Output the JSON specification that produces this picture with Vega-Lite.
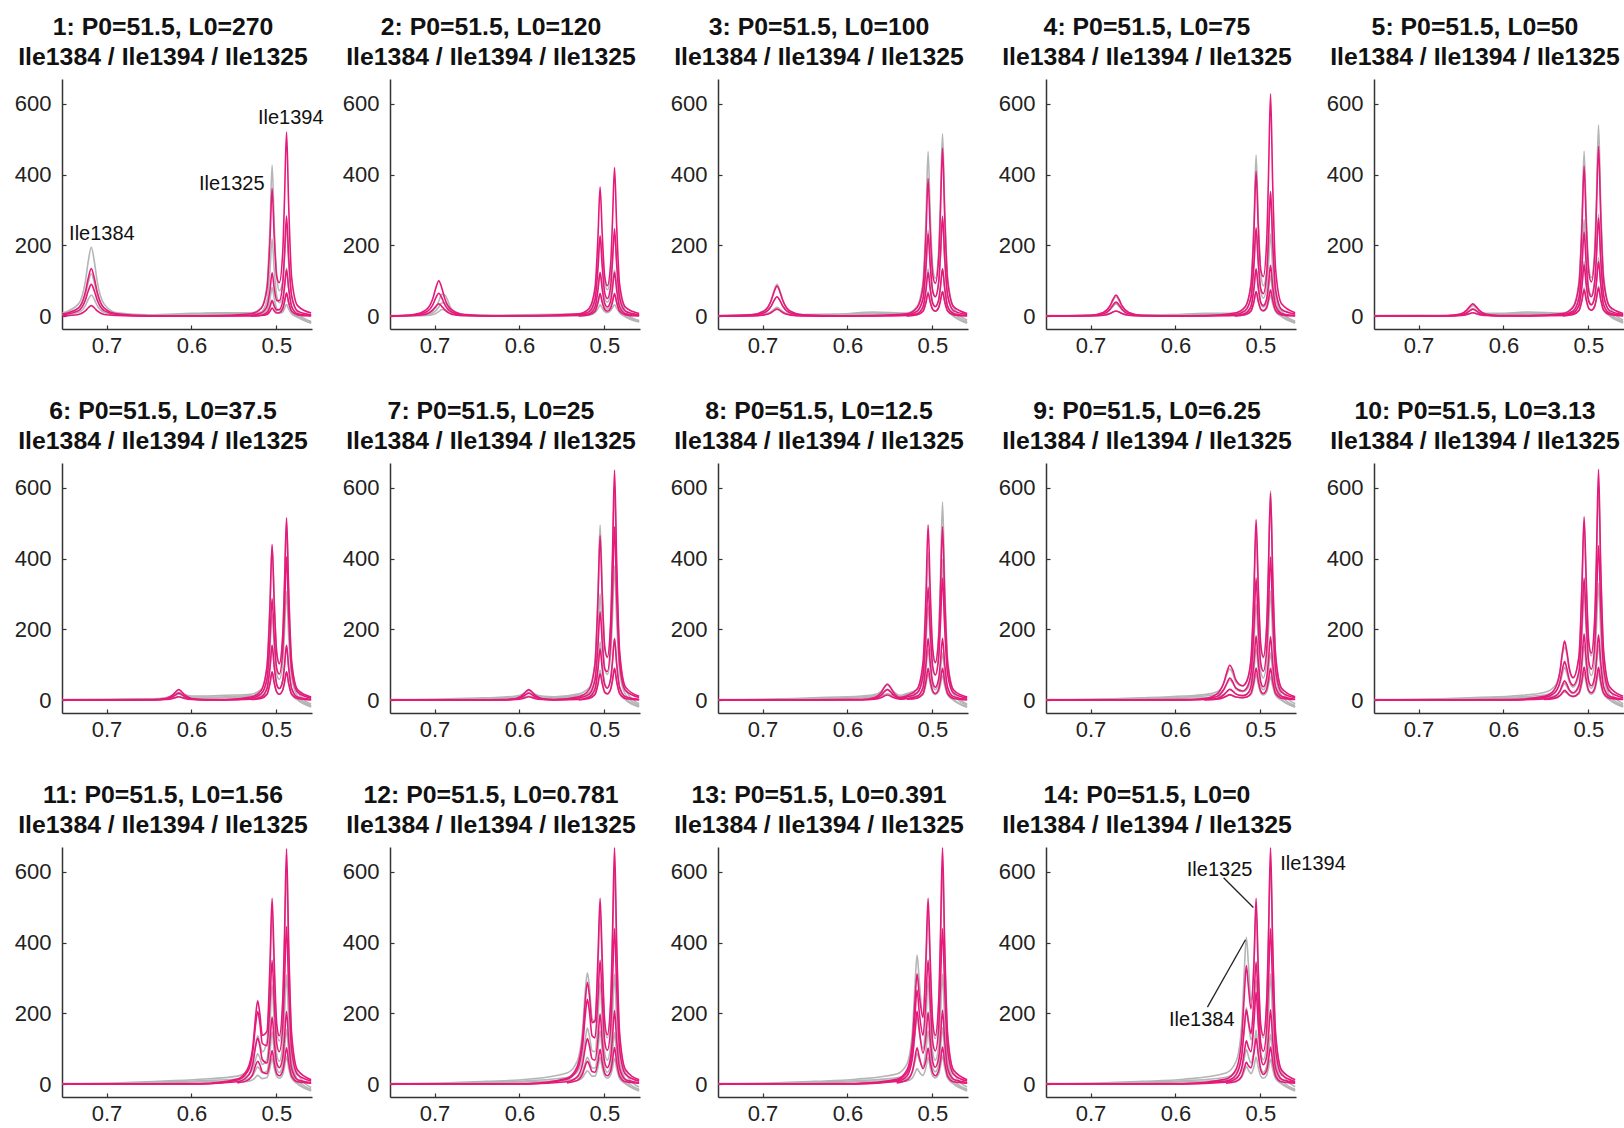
{
"$schema": "https://vega.github.io/schema/vega-lite/v6.json",
"background": "#ffffff",
"padding": {"left": 14, "top": 15, "right": 0, "bottom": 0},
"data": {"values": [
{"p":1,"x":0.752,"g1":9,"g2":5,"g3":3,"m1":6,"m2":4,"m3":1},
{"p":1,"x":0.733,"g1":35,"g2":22,"g3":11,"m1":24,"m2":16,"m3":5},
{"p":1,"x":0.725,"g1":98,"g2":60,"g3":30,"m1":68,"m2":45,"m3":15},
{"p":1,"x":0.7215,"g1":156,"g2":96,"g3":48,"m1":108,"m2":72,"m3":24},
{"p":1,"x":0.718,"g1":195,"g2":120,"g3":60,"m1":135,"m2":90,"m3":30},
{"p":1,"x":0.7145,"g1":156,"g2":96,"g3":48,"m1":108,"m2":72,"m3":24},
{"p":1,"x":0.711,"g1":98,"g2":60,"g3":30,"m1":68,"m2":45,"m3":15},
{"p":1,"x":0.703,"g1":35,"g2":22,"g3":11,"m1":24,"m2":16,"m3":5},
{"p":1,"x":0.688,"g1":10,"g2":6,"g3":3,"m1":7,"m2":5,"m3":2},
{"p":1,"x":0.65,"g1":4,"g2":3,"g3":2,"m1":1,"m2":1,"m3":0},
{"p":1,"x":0.6,"g1":8,"g2":6,"g3":4,"m1":1,"m2":1,"m3":1},
{"p":1,"x":0.565,"g1":10,"g2":8,"g3":5,"m1":2,"m2":1,"m3":1},
{"p":1,"x":0.53,"g1":10,"g2":7,"g3":4,"g4":2,"m1":7,"m2":3,"m3":1,"m4":1},
{"p":1,"x":0.518,"g1":23,"g2":12,"g3":5,"g4":3,"m1":22,"m2":9,"m3":3,"m4":2},
{"p":1,"x":0.511,"g1":88,"g2":45,"g3":17,"g4":9,"m1":78,"m2":28,"m3":10,"m4":5},
{"p":1,"x":0.5075,"g1":253,"g2":130,"g3":48,"g4":26,"m1":216,"m2":74,"m3":27,"m4":14},
{"p":1,"x":0.505,"g1":427,"g2":219,"g3":82,"g4":45,"m1":361,"m2":123,"m3":44,"m4":23},
{"p":1,"x":0.5025,"g1":258,"g2":132,"g3":50,"g4":27,"m1":225,"m2":79,"m3":29,"m4":15},
{"p":1,"x":0.4995,"g1":112,"g2":57,"g3":22,"g4":12,"m1":112,"m2":44,"m3":18,"m4":9},
{"p":1,"x":0.4965,"g1":72,"g2":38,"g3":16,"g4":9,"m1":95,"m2":44,"m3":19,"m4":10},
{"p":1,"x":0.4925,"g1":97,"g2":52,"g3":23,"g4":12,"m1":180,"m2":93,"m3":42,"m4":21},
{"p":1,"x":0.4905,"g1":159,"g2":86,"g3":39,"g4":21,"m1":321,"m2":170,"m3":79,"m4":40},
{"p":1,"x":0.488,"g1":253,"g2":136,"g3":62,"g4":34,"m1":520,"m2":283,"m3":131,"m4":66},
{"p":1,"x":0.4855,"g1":151,"g2":82,"g3":37,"g4":20,"m1":315,"m2":168,"m3":78,"m4":39},
{"p":1,"x":0.482,"g1":55,"g2":30,"g3":13,"g4":7,"m1":110,"m2":58,"m3":27,"m4":14},
{"p":1,"x":0.475,"g1":11,"g2":4,"g3":-1,"g4":-3,"m1":30,"m2":15,"m3":7,"m4":4},
{"p":1,"x":0.459,"g1":-15,"g2":-17,"g3":-19,"g4":-20,"m1":9,"m2":4,"m3":2,"m4":1},

{"p":2,"x":0.752,"g1":2,"g2":1,"g3":1,"m1":1,"m2":1,"m3":0},
{"p":2,"x":0.725,"g1":2,"g2":2,"g3":1,"m1":5,"m2":3,"m3":2},
{"p":2,"x":0.71,"g1":7,"g2":4,"g3":2,"m1":18,"m2":12,"m3":6},
{"p":2,"x":0.702,"g1":16,"g2":10,"g3":5,"m1":50,"m2":33,"m3":18},
{"p":2,"x":0.6985,"g1":26,"g2":16,"g3":8,"m1":80,"m2":52,"m3":28},
{"p":2,"x":0.695,"g1":43,"g2":26,"g3":13,"m1":100,"m2":65,"m3":35},
{"p":2,"x":0.6915,"g1":62,"g2":38,"g3":19,"m1":80,"m2":52,"m3":28},
{"p":2,"x":0.688,"g1":60,"g2":37,"g3":18,"m1":50,"m2":33,"m3":18},
{"p":2,"x":0.68,"g1":21,"g2":13,"g3":7,"m1":18,"m2":12,"m3":6},
{"p":2,"x":0.665,"g1":5,"g2":3,"g3":1,"m1":5,"m2":3,"m3":2},
{"p":2,"x":0.63,"g1":3,"g2":2,"g3":1,"m1":1,"m2":1,"m3":0},
{"p":2,"x":0.58,"g1":5,"g2":4,"g3":3,"m1":2,"m2":1,"m3":1},
{"p":2,"x":0.53,"g1":6,"g2":3,"g3":2,"g4":1,"m1":7,"m2":4,"m3":2,"m4":1},
{"p":2,"x":0.518,"g1":20,"g2":11,"g3":5,"g4":3,"m1":22,"m2":13,"m3":7,"m4":4},
{"p":2,"x":0.511,"g1":70,"g2":37,"g3":18,"g4":10,"m1":80,"m2":48,"m3":26,"m4":14},
{"p":2,"x":0.5075,"g1":160,"g2":85,"g3":42,"g4":22,"m1":225,"m2":135,"m3":74,"m4":38},
{"p":2,"x":0.505,"g1":225,"g2":120,"g3":60,"g4":32,"m1":365,"m2":227,"m3":124,"m4":64},
{"p":2,"x":0.5025,"g1":165,"g2":88,"g3":44,"g4":23,"m1":232,"m2":140,"m3":76,"m4":39},
{"p":2,"x":0.4995,"g1":95,"g2":50,"g3":25,"g4":13,"m1":111,"m2":66,"m3":36,"m4":19},
{"p":2,"x":0.4965,"g1":75,"g2":40,"g3":20,"g4":10,"m1":86,"m2":50,"m3":26,"m4":14},
{"p":2,"x":0.4925,"g1":115,"g2":63,"g3":30,"g4":16,"m1":150,"m2":86,"m3":44,"m4":23},
{"p":2,"x":0.4905,"g1":165,"g2":93,"g3":45,"g4":24,"m1":263,"m2":151,"m3":76,"m4":39},
{"p":2,"x":0.488,"g1":230,"g2":130,"g3":60,"g4":32,"m1":420,"m2":247,"m3":124,"m4":64},
{"p":2,"x":0.4855,"g1":160,"g2":90,"g3":43,"g4":23,"m1":256,"m2":147,"m3":74,"m4":38},
{"p":2,"x":0.482,"g1":70,"g2":38,"g3":18,"g4":10,"m1":90,"m2":52,"m3":26,"m4":14},
{"p":2,"x":0.475,"g1":15,"g2":6,"g3":1,"g4":-2,"m1":25,"m2":14,"m3":7,"m4":4},
{"p":2,"x":0.459,"g1":-15,"g2":-12,"g3":-14,"g4":-16,"m1":8,"m2":4,"m3":2,"m4":1},

{"p":3,"x":0.752,"g1":2,"g2":1,"g3":1,"m1":1,"m2":1,"m3":0},
{"p":3,"x":0.713,"g1":5,"g2":3,"g3":1,"m1":4,"m2":3,"m3":1},
{"p":3,"x":0.698,"g1":16,"g2":10,"g3":5,"m1":15,"m2":10,"m3":4},
{"p":3,"x":0.69,"g1":45,"g2":28,"g3":13,"m1":43,"m2":28,"m3":10},
{"p":3,"x":0.6865,"g1":72,"g2":44,"g3":20,"m1":68,"m2":44,"m3":16},
{"p":3,"x":0.683,"g1":90,"g2":55,"g3":25,"m1":85,"m2":55,"m3":20},
{"p":3,"x":0.6795,"g1":72,"g2":44,"g3":20,"m1":68,"m2":44,"m3":16},
{"p":3,"x":0.676,"g1":45,"g2":28,"g3":13,"m1":43,"m2":28,"m3":10},
{"p":3,"x":0.668,"g1":16,"g2":10,"g3":5,"m1":15,"m2":10,"m3":4},
{"p":3,"x":0.653,"g1":5,"g2":3,"g3":1,"m1":4,"m2":3,"m3":1},
{"p":3,"x":0.61,"g1":6,"g2":5,"g3":3,"m1":1,"m2":1,"m3":0},
{"p":3,"x":0.57,"g1":12,"g2":9,"g3":6,"m1":2,"m2":1,"m3":1},
{"p":3,"x":0.53,"g1":9,"g2":5,"g3":2,"g4":1,"m1":7,"m2":4,"m3":2,"m4":1},
{"p":3,"x":0.518,"g1":28,"g2":15,"g3":8,"g4":4,"m1":24,"m2":14,"m3":7,"m4":4},
{"p":3,"x":0.511,"g1":99,"g2":52,"g3":28,"g4":15,"m1":83,"m2":50,"m3":26,"m4":14},
{"p":3,"x":0.5075,"g1":278,"g2":145,"g3":80,"g4":42,"m1":232,"m2":139,"m3":74,"m4":39},
{"p":3,"x":0.505,"g1":465,"g2":243,"g3":134,"g4":70,"m1":389,"m2":233,"m3":124,"m4":65},
{"p":3,"x":0.5025,"g1":287,"g2":150,"g3":82,"g4":43,"m1":240,"m2":144,"m3":76,"m4":40},
{"p":3,"x":0.4995,"g1":137,"g2":71,"g3":38,"g4":20,"m1":116,"m2":70,"m3":36,"m4":19},
{"p":3,"x":0.4965,"g1":107,"g2":56,"g3":29,"g4":15,"m1":93,"m2":55,"m3":27,"m4":14},
{"p":3,"x":0.4925,"g1":185,"g2":97,"g3":47,"g4":25,"m1":167,"m2":97,"m3":47,"m4":25},
{"p":3,"x":0.4905,"g1":322,"g2":169,"g3":82,"g4":43,"m1":292,"m2":171,"m3":82,"m4":43},
{"p":3,"x":0.488,"g1":515,"g2":277,"g3":134,"g4":70,"m1":475,"m2":282,"m3":134,"m4":70},
{"p":3,"x":0.4855,"g1":314,"g2":164,"g3":80,"g4":42,"m1":286,"m2":167,"m3":80,"m4":42},
{"p":3,"x":0.482,"g1":111,"g2":58,"g3":28,"g4":15,"m1":100,"m2":59,"m3":28,"m4":15},
{"p":3,"x":0.475,"g1":25,"g2":11,"g3":3,"g4":0,"m1":27,"m2":16,"m3":8,"m4":4},
{"p":3,"x":0.459,"g1":-11,"g2":-15,"g3":-18,"g4":-20,"m1":8,"m2":5,"m3":2,"m4":1},

{"p":4,"x":0.752,"g1":2,"g2":1,"g3":1,"m1":1,"m2":1,"m3":0},
{"p":4,"x":0.7,"g1":3,"g2":2,"g3":1,"m1":3,"m2":2,"m3":1},
{"p":4,"x":0.685,"g1":10,"g2":6,"g3":3,"m1":11,"m2":7,"m3":3},
{"p":4,"x":0.677,"g1":28,"g2":18,"g3":8,"m1":30,"m2":20,"m3":8},
{"p":4,"x":0.6735,"g1":44,"g2":28,"g3":12,"m1":48,"m2":32,"m3":12},
{"p":4,"x":0.67,"g1":55,"g2":35,"g3":15,"m1":60,"m2":40,"m3":15},
{"p":4,"x":0.6665,"g1":44,"g2":28,"g3":12,"m1":48,"m2":32,"m3":12},
{"p":4,"x":0.663,"g1":28,"g2":18,"g3":8,"m1":30,"m2":20,"m3":8},
{"p":4,"x":0.655,"g1":10,"g2":6,"g3":3,"m1":11,"m2":7,"m3":3},
{"p":4,"x":0.64,"g1":3,"g2":2,"g3":1,"m1":3,"m2":2,"m3":1},
{"p":4,"x":0.6,"g1":5,"g2":4,"g3":2,"m1":1,"m2":1,"m3":0},
{"p":4,"x":0.565,"g1":8,"g2":6,"g3":4,"m1":2,"m2":1,"m3":1},
{"p":4,"x":0.53,"g1":8,"g2":4,"g3":2,"g4":1,"m1":9,"m2":5,"m3":2,"m4":1},
{"p":4,"x":0.518,"g1":26,"g2":14,"g3":8,"g4":4,"m1":26,"m2":16,"m3":8,"m4":4},
{"p":4,"x":0.511,"g1":95,"g2":51,"g3":28,"g4":15,"m1":89,"m2":54,"m3":28,"m4":15},
{"p":4,"x":0.5075,"g1":271,"g2":144,"g3":79,"g4":41,"m1":244,"m2":150,"m3":80,"m4":42},
{"p":4,"x":0.505,"g1":455,"g2":242,"g3":133,"g4":70,"m1":409,"m2":250,"m3":134,"m4":70},
{"p":4,"x":0.5025,"g1":277,"g2":148,"g3":81,"g4":42,"m1":256,"m2":156,"m3":83,"m4":43},
{"p":4,"x":0.4995,"g1":124,"g2":68,"g3":37,"g4":19,"m1":130,"m2":77,"m3":39,"m4":20},
{"p":4,"x":0.4965,"g1":86,"g2":51,"g3":26,"g4":14,"m1":112,"m2":64,"m3":30,"m4":16},
{"p":4,"x":0.4925,"g1":130,"g2":83,"g3":41,"g4":22,"m1":215,"m2":120,"m3":50,"m4":26},
{"p":4,"x":0.4905,"g1":218,"g2":143,"g3":70,"g4":37,"m1":385,"m2":214,"m3":88,"m4":46},
{"p":4,"x":0.488,"g1":353,"g2":232,"g3":114,"g4":60,"m1":628,"m2":352,"m3":144,"m4":75},
{"p":4,"x":0.4855,"g1":210,"g2":138,"g3":68,"g4":36,"m1":378,"m2":210,"m3":86,"m4":45},
{"p":4,"x":0.482,"g1":76,"g2":49,"g3":24,"g4":13,"m1":132,"m2":73,"m3":30,"m4":16},
{"p":4,"x":0.475,"g1":16,"g2":9,"g3":2,"g4":-1,"m1":35,"m2":19,"m3":8,"m4":4},
{"p":4,"x":0.459,"g1":-14,"g2":-16,"g3":-18,"g4":-20,"m1":10,"m2":6,"m3":2,"m4":1},

{"p":5,"x":0.752,"g1":2,"g2":1,"g3":1,"m1":1,"m2":1,"m3":0},
{"p":5,"x":0.7,"g1":3,"g2":2,"g3":1,"m1":1,"m2":1,"m3":0},
{"p":5,"x":0.666,"g1":2,"g2":1,"g3":1,"m1":2,"m2":1,"m3":1},
{"p":5,"x":0.651,"g1":5,"g2":4,"g3":2,"m1":6,"m2":4,"m3":2},
{"p":5,"x":0.643,"g1":15,"g2":10,"g3":5,"m1":18,"m2":10,"m3":5},
{"p":5,"x":0.6395,"g1":24,"g2":16,"g3":8,"m1":28,"m2":16,"m3":8},
{"p":5,"x":0.636,"g1":30,"g2":20,"g3":10,"m1":35,"m2":20,"m3":10},
{"p":5,"x":0.6325,"g1":24,"g2":16,"g3":8,"m1":28,"m2":16,"m3":8},
{"p":5,"x":0.629,"g1":15,"g2":10,"g3":5,"m1":18,"m2":10,"m3":5},
{"p":5,"x":0.621,"g1":8,"g2":6,"g3":4,"m1":6,"m2":4,"m3":2},
{"p":5,"x":0.606,"g1":8,"g2":6,"g3":4,"m1":2,"m2":1,"m3":1},
{"p":5,"x":0.57,"g1":12,"g2":9,"g3":6,"m1":2,"m2":1,"m3":1},
{"p":5,"x":0.53,"g1":9,"g2":5,"g3":2,"g4":1,"m1":8,"m2":5,"m3":2,"m4":1},
{"p":5,"x":0.518,"g1":28,"g2":16,"g3":9,"g4":5,"m1":25,"m2":14,"m3":9,"m4":5},
{"p":5,"x":0.511,"g1":99,"g2":58,"g3":33,"g4":17,"m1":90,"m2":51,"m3":31,"m4":16},
{"p":5,"x":0.5075,"g1":278,"g2":162,"g3":92,"g4":48,"m1":253,"m2":142,"m3":86,"m4":45},
{"p":5,"x":0.505,"g1":466,"g2":273,"g3":155,"g4":80,"m1":424,"m2":238,"m3":145,"m4":75},
{"p":5,"x":0.5025,"g1":288,"g2":168,"g3":95,"g4":49,"m1":262,"m2":147,"m3":89,"m4":46},
{"p":5,"x":0.4995,"g1":138,"g2":79,"g3":45,"g4":23,"m1":124,"m2":70,"m3":42,"m4":22},
{"p":5,"x":0.4965,"g1":109,"g2":60,"g3":34,"g4":18,"m1":97,"m2":55,"m3":32,"m4":17},
{"p":5,"x":0.4925,"g1":191,"g2":102,"g3":58,"g4":30,"m1":170,"m2":97,"m3":54,"m4":28},
{"p":5,"x":0.4905,"g1":334,"g2":176,"g3":100,"g4":52,"m1":297,"m2":168,"m3":94,"m4":49},
{"p":5,"x":0.488,"g1":540,"g2":288,"g3":165,"g4":85,"m1":480,"m2":277,"m3":154,"m4":80},
{"p":5,"x":0.4855,"g1":326,"g2":171,"g3":98,"g4":51,"m1":289,"m2":164,"m3":92,"m4":48},
{"p":5,"x":0.482,"g1":115,"g2":61,"g3":35,"g4":18,"m1":102,"m2":58,"m3":32,"m4":17},
{"p":5,"x":0.475,"g1":27,"g2":12,"g3":5,"g4":1,"m1":28,"m2":16,"m3":9,"m4":5},
{"p":5,"x":0.459,"g1":-11,"g2":-15,"g3":-17,"g4":-19,"m1":8,"m2":5,"m3":3,"m4":1},

{"p":6,"x":0.752,"g1":2,"g2":1,"g3":1,"m1":1,"m2":1,"m3":0},
{"p":6,"x":0.7,"g1":3,"g2":2,"g3":1,"m1":1,"m2":1,"m3":0},
{"p":6,"x":0.645,"g1":4,"g2":3,"g3":2,"m1":2,"m2":1,"m3":1},
{"p":6,"x":0.63,"g1":8,"g2":6,"g3":4,"m1":5,"m2":4,"m3":2},
{"p":6,"x":0.622,"g1":14,"g2":10,"g3":6,"m1":15,"m2":10,"m3":5},
{"p":6,"x":0.6185,"g1":20,"g2":14,"g3":8,"m1":24,"m2":16,"m3":8},
{"p":6,"x":0.615,"g1":22,"g2":17,"g3":10,"m1":30,"m2":20,"m3":10},
{"p":6,"x":0.6115,"g1":20,"g2":15,"g3":8,"m1":24,"m2":16,"m3":8},
{"p":6,"x":0.608,"g1":16,"g2":12,"g3":7,"m1":15,"m2":10,"m3":5},
{"p":6,"x":0.6,"g1":12,"g2":9,"g3":6,"m1":5,"m2":4,"m3":2},
{"p":6,"x":0.585,"g1":12,"g2":9,"g3":6,"m1":2,"m2":1,"m3":1},
{"p":6,"x":0.56,"g1":14,"g2":10,"g3":7,"m1":2,"m2":1,"m3":1},
{"p":6,"x":0.53,"g1":17,"g2":13,"g3":11,"g4":9,"m1":9,"m2":6,"m3":3,"m4":2},
{"p":6,"x":0.518,"g1":31,"g2":19,"g3":13,"g4":10,"m1":27,"m2":18,"m3":9,"m4":5},
{"p":6,"x":0.511,"g1":95,"g2":52,"g3":33,"g4":17,"m1":96,"m2":62,"m3":33,"m4":17},
{"p":6,"x":0.5075,"g1":265,"g2":146,"g3":92,"g4":48,"m1":269,"m2":171,"m3":92,"m4":48},
{"p":6,"x":0.505,"g1":435,"g2":244,"g3":155,"g4":80,"m1":440,"m2":287,"m3":155,"m4":80},
{"p":6,"x":0.5025,"g1":274,"g2":151,"g3":95,"g4":49,"m1":278,"m2":178,"m3":95,"m4":49},
{"p":6,"x":0.4995,"g1":131,"g2":73,"g3":44,"g4":23,"m1":133,"m2":89,"m3":44,"m4":23},
{"p":6,"x":0.4965,"g1":102,"g2":59,"g3":33,"g4":17,"m1":104,"m2":74,"m3":33,"m4":17},
{"p":6,"x":0.4925,"g1":179,"g2":106,"g3":55,"g4":29,"m1":183,"m2":139,"m3":55,"m4":29},
{"p":6,"x":0.4905,"g1":313,"g2":187,"g3":95,"g4":49,"m1":320,"m2":247,"m3":95,"m4":49},
{"p":6,"x":0.488,"g1":500,"g2":307,"g3":155,"g4":80,"m1":515,"m2":405,"m3":155,"m4":80},
{"p":6,"x":0.4855,"g1":305,"g2":182,"g3":92,"g4":48,"m1":312,"m2":242,"m3":92,"m4":48},
{"p":6,"x":0.482,"g1":107,"g2":64,"g3":33,"g4":17,"m1":109,"m2":85,"m3":33,"m4":17},
{"p":6,"x":0.475,"g1":24,"g2":12,"g3":4,"g4":1,"m1":30,"m2":23,"m3":9,"m4":5},
{"p":6,"x":0.459,"g1":-11,"g2":-15,"g3":-17,"g4":-19,"m1":9,"m2":6,"m3":3,"m4":1},

{"p":7,"x":0.752,"g1":2,"g2":1,"g3":1,"m1":1,"m2":1,"m3":0},
{"p":7,"x":0.7,"g1":3,"g2":2,"g3":1,"m1":1,"m2":1,"m3":0},
{"p":7,"x":0.65,"g1":6,"g2":4,"g3":3,"m1":1,"m2":1,"m3":1},
{"p":7,"x":0.619,"g1":9,"g2":7,"g3":5,"m1":2,"m2":1,"m3":1},
{"p":7,"x":0.604,"g1":12,"g2":9,"g3":6,"m1":5,"m2":4,"m3":2},
{"p":7,"x":0.596,"g1":18,"g2":13,"g3":8,"m1":15,"m2":10,"m3":5},
{"p":7,"x":0.5925,"g1":24,"g2":17,"g3":10,"m1":24,"m2":16,"m3":8},
{"p":7,"x":0.589,"g1":28,"g2":20,"g3":12,"m1":30,"m2":20,"m3":10},
{"p":7,"x":0.5855,"g1":24,"g2":17,"g3":10,"m1":24,"m2":16,"m3":8},
{"p":7,"x":0.582,"g1":18,"g2":13,"g3":8,"m1":15,"m2":10,"m3":5},
{"p":7,"x":0.574,"g1":12,"g2":9,"g3":6,"m1":5,"m2":4,"m3":2},
{"p":7,"x":0.559,"g1":10,"g2":8,"g3":5,"m1":2,"m2":1,"m3":1},
{"p":7,"x":0.53,"g1":18,"g2":14,"g3":11,"g4":9,"m1":10,"m2":6,"m3":2,"m4":1},
{"p":7,"x":0.518,"g1":35,"g2":22,"g3":14,"g4":10,"m1":30,"m2":17,"m3":9,"m4":5},
{"p":7,"x":0.511,"g1":108,"g2":64,"g3":35,"g4":18,"m1":103,"m2":57,"m3":31,"m4":16},
{"p":7,"x":0.5075,"g1":303,"g2":180,"g3":98,"g4":51,"m1":286,"m2":156,"m3":87,"m4":45},
{"p":7,"x":0.505,"g1":495,"g2":301,"g3":165,"g4":85,"m1":465,"m2":250,"m3":145,"m4":75},
{"p":7,"x":0.5025,"g1":314,"g2":186,"g3":101,"g4":52,"m1":298,"m2":165,"m3":90,"m4":47},
{"p":7,"x":0.4995,"g1":151,"g2":91,"g3":48,"g4":25,"m1":148,"m2":87,"m3":43,"m4":22},
{"p":7,"x":0.4965,"g1":120,"g2":73,"g3":36,"g4":19,"m1":122,"m2":81,"m3":34,"m4":18},
{"p":7,"x":0.4925,"g1":213,"g2":131,"g3":62,"g4":32,"m1":226,"m2":165,"m3":61,"m4":32},
{"p":7,"x":0.4905,"g1":374,"g2":230,"g3":107,"g4":55,"m1":401,"m2":299,"m3":106,"m4":55},
{"p":7,"x":0.488,"g1":605,"g2":379,"g3":175,"g4":90,"m1":650,"m2":490,"m3":174,"m4":90},
{"p":7,"x":0.4855,"g1":365,"g2":225,"g3":104,"g4":54,"m1":393,"m2":295,"m3":103,"m4":53},
{"p":7,"x":0.482,"g1":128,"g2":79,"g3":37,"g4":19,"m1":138,"m2":102,"m3":36,"m4":19},
{"p":7,"x":0.475,"g1":30,"g2":16,"g3":5,"g4":1,"m1":37,"m2":27,"m3":10,"m4":5},
{"p":7,"x":0.459,"g1":-10,"g2":-14,"g3":-17,"g4":-19,"m1":11,"m2":8,"m3":3,"m4":1},

{"p":8,"x":0.752,"g1":2,"g2":1,"g3":1,"m1":1,"m2":1,"m3":0},
{"p":8,"x":0.7,"g1":3,"g2":2,"g3":1,"m1":1,"m2":1,"m3":0},
{"p":8,"x":0.64,"g1":7,"g2":5,"g3":3,"m1":1,"m2":1,"m3":1},
{"p":8,"x":0.583,"g1":12,"g2":9,"g3":7,"m1":2,"m2":2,"m3":1},
{"p":8,"x":0.568,"g1":16,"g2":13,"g3":9,"m1":8,"m2":5,"m3":3},
{"p":8,"x":0.56,"g1":26,"g2":19,"g3":12,"m1":23,"m2":15,"m3":8},
{"p":8,"x":0.5565,"g1":36,"g2":26,"g3":16,"m1":37,"m2":24,"m3":12},
{"p":8,"x":0.553,"g1":43,"g2":31,"g3":19,"m1":46,"m2":30,"m3":15},
{"p":8,"x":0.5495,"g1":36,"g2":26,"g3":16,"m1":37,"m2":24,"m3":12},
{"p":8,"x":0.546,"g1":26,"g2":19,"g3":12,"m1":23,"m2":15,"m3":8},
{"p":8,"x":0.538,"g1":14,"g2":11,"g3":7,"m1":8,"m2":5,"m3":3},
{"p":8,"x":0.53,"g1":19,"g2":16,"g3":12,"g4":10,"m1":13,"m2":9,"m3":5,"m4":3},
{"p":8,"x":0.518,"g1":31,"g2":22,"g3":13,"g4":10,"m1":31,"m2":20,"m3":11,"m4":6},
{"p":8,"x":0.511,"g1":90,"g2":58,"g3":31,"g4":16,"m1":107,"m2":70,"m3":37,"m4":19},
{"p":8,"x":0.5075,"g1":249,"g2":159,"g3":86,"g4":45,"m1":300,"m2":194,"m3":104,"m4":54},
{"p":8,"x":0.505,"g1":417,"g2":267,"g3":144,"g4":75,"m1":495,"m2":320,"m3":175,"m4":90},
{"p":8,"x":0.5025,"g1":259,"g2":166,"g3":88,"g4":46,"m1":309,"m2":200,"m3":107,"m4":55},
{"p":8,"x":0.4995,"g1":128,"g2":84,"g3":40,"g4":21,"m1":144,"m2":94,"m3":50,"m4":26},
{"p":8,"x":0.4965,"g1":105,"g2":71,"g3":30,"g4":16,"m1":107,"m2":72,"m3":37,"m4":19},
{"p":8,"x":0.4925,"g1":194,"g2":135,"g3":48,"g4":25,"m1":177,"m2":122,"m3":62,"m4":32},
{"p":8,"x":0.4905,"g1":344,"g2":241,"g3":83,"g4":43,"m1":306,"m2":214,"m3":107,"m4":55},
{"p":8,"x":0.488,"g1":560,"g2":398,"g3":134,"g4":70,"m1":490,"m2":345,"m3":175,"m4":90},
{"p":8,"x":0.4855,"g1":336,"g2":236,"g3":80,"g4":42,"m1":297,"m2":208,"m3":104,"m4":54},
{"p":8,"x":0.482,"g1":118,"g2":82,"g3":28,"g4":15,"m1":105,"m2":73,"m3":37,"m4":19},
{"p":8,"x":0.475,"g1":27,"g2":17,"g3":3,"g4":0,"m1":29,"m2":20,"m3":10,"m4":5},
{"p":8,"x":0.459,"g1":-11,"g2":-14,"g3":-18,"g4":-20,"m1":9,"m2":6,"m3":3,"m4":1},

{"p":9,"x":0.752,"g1":2,"g2":1,"g3":1,"m1":1,"m2":1,"m3":0},
{"p":9,"x":0.7,"g1":3,"g2":2,"g3":1,"m1":1,"m2":1,"m3":0},
{"p":9,"x":0.64,"g1":7,"g2":5,"g3":3,"m1":1,"m2":1,"m3":1},
{"p":9,"x":0.59,"g1":12,"g2":9,"g3":6,"m1":2,"m2":1,"m3":1},
{"p":9,"x":0.566,"g1":16,"g2":12,"g3":7,"g4":5,"m1":5,"m2":3,"m3":2,"m4":1},
{"p":9,"x":0.551,"g1":24,"g2":17,"g3":10,"g4":6,"m1":18,"m2":11,"m3":5,"m4":3},
{"p":9,"x":0.543,"g1":48,"g2":31,"g3":17,"g4":9,"m1":50,"m2":30,"m3":15,"m4":8},
{"p":9,"x":0.5395,"g1":72,"g2":46,"g3":24,"g4":12,"m1":79,"m2":48,"m3":24,"m4":12},
{"p":9,"x":0.536,"g1":88,"g2":58,"g3":30,"g4":15,"m1":99,"m2":63,"m3":31,"m4":16},
{"p":9,"x":0.5325,"g1":76,"g2":48,"g3":25,"g4":13,"m1":85,"m2":52,"m3":26,"m4":13},
{"p":9,"x":0.529,"g1":52,"g2":33,"g3":18,"g4":9,"m1":58,"m2":35,"m3":18,"m4":9},
{"p":9,"x":0.521,"g1":40,"g2":24,"g3":13,"g4":7,"m1":41,"m2":26,"m3":13,"m4":7},
{"p":9,"x":0.516,"g1":53,"g2":30,"g3":17,"g4":9,"m1":54,"m2":35,"m3":17,"m4":9},
{"p":9,"x":0.511,"g1":110,"g2":61,"g3":32,"g4":16,"m1":118,"m2":77,"m3":40,"m4":20},
{"p":9,"x":0.5075,"g1":295,"g2":163,"g3":87,"g4":44,"m1":317,"m2":207,"m3":109,"m4":55},
{"p":9,"x":0.505,"g1":480,"g2":272,"g3":145,"g4":73,"m1":510,"m2":345,"m3":182,"m4":91},
{"p":9,"x":0.5025,"g1":304,"g2":167,"g3":89,"g4":45,"m1":326,"m2":214,"m3":111,"m4":56},
{"p":9,"x":0.4995,"g1":149,"g2":81,"g3":41,"g4":21,"m1":157,"m2":104,"m3":52,"m4":26},
{"p":9,"x":0.4965,"g1":119,"g2":63,"g3":30,"g4":15,"m1":123,"m2":82,"m3":38,"m4":19},
{"p":9,"x":0.4925,"g1":211,"g2":108,"g3":48,"g4":24,"m1":212,"m2":144,"m3":64,"m4":32},
{"p":9,"x":0.4905,"g1":369,"g2":189,"g3":83,"g4":42,"m1":368,"m2":251,"m3":110,"m4":55},
{"p":9,"x":0.488,"g1":592,"g2":309,"g3":134,"g4":67,"m1":585,"m2":405,"m3":180,"m4":90},
{"p":9,"x":0.4855,"g1":360,"g2":183,"g3":80,"g4":40,"m1":357,"m2":244,"m3":107,"m4":54},
{"p":9,"x":0.482,"g1":126,"g2":64,"g3":28,"g4":14,"m1":126,"m2":86,"m3":38,"m4":19},
{"p":9,"x":0.475,"g1":29,"g2":13,"g3":3,"g4":0,"m1":34,"m2":23,"m3":11,"m4":6},
{"p":9,"x":0.459,"g1":-10,"g2":-15,"g3":-18,"g4":-20,"m1":10,"m2":7,"m3":3,"m4":2},

{"p":10,"x":0.752,"g1":2,"g2":1,"g3":1,"m1":1,"m2":1,"m3":0},
{"p":10,"x":0.7,"g1":3,"g2":2,"g3":1,"m1":1,"m2":1,"m3":0},
{"p":10,"x":0.64,"g1":7,"g2":5,"g3":3,"m1":1,"m2":1,"m3":1},
{"p":10,"x":0.59,"g1":12,"g2":9,"g3":6,"m1":2,"m2":1,"m3":1},
{"p":10,"x":0.552,"g1":22,"g2":15,"g3":9,"g4":6,"m1":11,"m2":8,"m3":4,"m4":2},
{"p":10,"x":0.54,"g1":38,"g2":24,"g3":13,"g4":8,"m1":30,"m2":20,"m3":10,"m4":5},
{"p":10,"x":0.5335,"g1":80,"g2":47,"g3":25,"g4":13,"m1":80,"m2":52,"m3":26,"m4":13},
{"p":10,"x":0.5305,"g1":129,"g2":75,"g3":38,"g4":19,"m1":136,"m2":88,"m3":44,"m4":22},
{"p":10,"x":0.528,"g1":150,"g2":93,"g3":47,"g4":24,"m1":167,"m2":109,"m3":55,"m4":28},
{"p":10,"x":0.5255,"g1":133,"g2":77,"g3":39,"g4":20,"m1":141,"m2":91,"m3":46,"m4":23},
{"p":10,"x":0.5225,"g1":88,"g2":52,"g3":27,"g4":14,"m1":91,"m2":59,"m3":30,"m4":15},
{"p":10,"x":0.518,"g1":63,"g2":37,"g3":19,"g4":10,"m1":64,"m2":42,"m3":21,"m4":11},
{"p":10,"x":0.511,"g1":121,"g2":72,"g3":36,"g4":18,"m1":126,"m2":83,"m3":43,"m4":22},
{"p":10,"x":0.5075,"g1":317,"g2":189,"g3":94,"g4":47,"m1":328,"m2":216,"m3":113,"m4":57},
{"p":10,"x":0.505,"g1":505,"g2":314,"g3":156,"g4":78,"m1":518,"m2":345,"m3":188,"m4":94},
{"p":10,"x":0.5025,"g1":325,"g2":193,"g3":96,"g4":48,"m1":337,"m2":222,"m3":115,"m4":58},
{"p":10,"x":0.4995,"g1":157,"g2":91,"g3":45,"g4":23,"m1":165,"m2":109,"m3":54,"m4":27},
{"p":10,"x":0.4965,"g1":125,"g2":70,"g3":34,"g4":17,"m1":133,"m2":88,"m3":41,"m4":21},
{"p":10,"x":0.4925,"g1":216,"g2":117,"g3":55,"g4":28,"m1":232,"m2":156,"m3":67,"m4":34},
{"p":10,"x":0.4905,"g1":377,"g2":202,"g3":95,"g4":48,"m1":400,"m2":273,"m3":114,"m4":57},
{"p":10,"x":0.488,"g1":605,"g2":330,"g3":155,"g4":78,"m1":652,"m2":437,"m3":185,"m4":93},
{"p":10,"x":0.4855,"g1":366,"g2":196,"g3":92,"g4":46,"m1":388,"m2":265,"m3":110,"m4":55},
{"p":10,"x":0.482,"g1":129,"g2":69,"g3":33,"g4":17,"m1":139,"m2":93,"m3":39,"m4":20},
{"p":10,"x":0.475,"g1":30,"g2":14,"g3":4,"g4":1,"m1":38,"m2":25,"m3":11,"m4":6},
{"p":10,"x":0.459,"g1":-10,"g2":-14,"g3":-17,"g4":-19,"m1":11,"m2":7,"m3":3,"m4":2},

{"p":11,"x":0.752,"g1":2,"g2":1,"g3":1,"m1":1,"m2":1,"m3":0},
{"p":11,"x":0.7,"g1":3,"g2":2,"g3":1,"m1":1,"m2":1,"m3":0},
{"p":11,"x":0.64,"g1":8,"g2":6,"g3":4,"m1":1,"m2":1,"m3":1},
{"p":11,"x":0.59,"g1":14,"g2":10,"g3":7,"m1":2,"m2":1,"m3":1},
{"p":11,"x":0.546,"g1":23,"g2":15,"g3":10,"g4":6,"m1":15,"m2":12,"m3":7,"m4":4},
{"p":11,"x":0.534,"g1":37,"g2":24,"g3":14,"g4":8,"m1":43,"m2":35,"m3":22,"m4":11},
{"p":11,"x":0.5275,"g1":71,"g2":46,"g3":26,"g4":13,"m1":110,"m2":97,"m3":60,"m4":30},
{"p":11,"x":0.5245,"g1":111,"g2":70,"g3":40,"g4":20,"m1":190,"m2":167,"m3":106,"m4":53},
{"p":11,"x":0.522,"g1":137,"g2":86,"g3":49,"g4":25,"m1":236,"m2":205,"m3":130,"m4":65},
{"p":11,"x":0.5195,"g1":118,"g2":75,"g3":42,"g4":21,"m1":200,"m2":174,"m3":109,"m4":55},
{"p":11,"x":0.5165,"g1":91,"g2":56,"g3":32,"g4":16,"m1":138,"m2":115,"m3":70,"m4":35},
{"p":11,"x":0.511,"g1":123,"g2":70,"g3":37,"g4":19,"m1":150,"m2":109,"m3":60,"m4":30},
{"p":11,"x":0.5075,"g1":303,"g2":170,"g3":91,"g4":46,"m1":340,"m2":231,"m3":124,"m4":62},
{"p":11,"x":0.505,"g1":490,"g2":280,"g3":148,"g4":74,"m1":525,"m2":350,"m3":190,"m4":95},
{"p":11,"x":0.5025,"g1":309,"g2":172,"g3":92,"g4":46,"m1":345,"m2":231,"m3":122,"m4":61},
{"p":11,"x":0.4995,"g1":151,"g2":83,"g3":44,"g4":22,"m1":170,"m2":115,"m3":60,"m4":30},
{"p":11,"x":0.4965,"g1":122,"g2":65,"g3":33,"g4":17,"m1":137,"m2":92,"m3":47,"m4":24},
{"p":11,"x":0.4925,"g1":215,"g2":110,"g3":55,"g4":28,"m1":237,"m2":161,"m3":76,"m4":38},
{"p":11,"x":0.4905,"g1":376,"g2":190,"g3":95,"g4":48,"m1":411,"m2":279,"m3":128,"m4":64},
{"p":11,"x":0.488,"g1":606,"g2":310,"g3":155,"g4":78,"m1":665,"m2":445,"m3":205,"m4":103},
{"p":11,"x":0.4855,"g1":367,"g2":184,"g3":92,"g4":46,"m1":400,"m2":272,"m3":124,"m4":62},
{"p":11,"x":0.482,"g1":130,"g2":66,"g3":33,"g4":17,"m1":142,"m2":97,"m3":45,"m4":23},
{"p":11,"x":0.475,"g1":31,"g2":13,"g3":4,"g4":1,"m1":40,"m2":27,"m3":13,"m4":7},
{"p":11,"x":0.459,"g1":-9,"g2":-14,"g3":-17,"g4":-19,"m1":13,"m2":9,"m3":5,"m4":3},

{"p":12,"x":0.752,"g1":2,"g2":1,"g3":1,"m1":1,"m2":1,"m3":0},
{"p":12,"x":0.7,"g1":3,"g2":2,"g3":1,"m1":1,"m2":1,"m3":0},
{"p":12,"x":0.64,"g1":8,"g2":6,"g3":4,"m1":1,"m2":1,"m3":1},
{"p":12,"x":0.59,"g1":14,"g2":10,"g3":7,"m1":2,"m2":1,"m3":1},
{"p":12,"x":0.544,"g1":32,"g2":19,"g3":11,"g4":7,"m1":17,"m2":14,"m3":7,"m4":4},
{"p":12,"x":0.532,"g1":65,"g2":35,"g3":18,"g4":10,"m1":50,"m2":41,"m3":21,"m4":11},
{"p":12,"x":0.5255,"g1":157,"g2":79,"g3":38,"g4":19,"m1":135,"m2":111,"m3":59,"m4":30},
{"p":12,"x":0.5225,"g1":263,"g2":128,"g3":61,"g4":31,"m1":233,"m2":194,"m3":103,"m4":52},
{"p":12,"x":0.52,"g1":315,"g2":159,"g3":76,"g4":38,"m1":288,"m2":240,"m3":129,"m4":65},
{"p":12,"x":0.5175,"g1":274,"g2":135,"g3":64,"g4":32,"m1":248,"m2":203,"m3":108,"m4":54},
{"p":12,"x":0.5145,"g1":187,"g2":95,"g3":46,"g4":23,"m1":174,"m2":137,"m3":72,"m4":36},
{"p":12,"x":0.511,"g1":175,"g2":92,"g3":46,"g4":23,"m1":179,"m2":131,"m3":68,"m4":34},
{"p":12,"x":0.5075,"g1":332,"g2":183,"g3":95,"g4":48,"m1":359,"m2":245,"m3":128,"m4":64},
{"p":12,"x":0.505,"g1":490,"g2":288,"g3":151,"g4":76,"m1":525,"m2":350,"m3":198,"m4":99},
{"p":12,"x":0.5025,"g1":324,"g2":179,"g3":94,"g4":47,"m1":354,"m2":239,"m3":123,"m4":62},
{"p":12,"x":0.4995,"g1":163,"g2":88,"g3":45,"g4":23,"m1":177,"m2":120,"m3":61,"m4":31},
{"p":12,"x":0.4965,"g1":131,"g2":68,"g3":34,"g4":17,"m1":140,"m2":96,"m3":47,"m4":24},
{"p":12,"x":0.4925,"g1":221,"g2":112,"g3":53,"g4":27,"m1":239,"m2":162,"m3":76,"m4":38},
{"p":12,"x":0.4905,"g1":381,"g2":192,"g3":90,"g4":45,"m1":412,"m2":280,"m3":129,"m4":65},
{"p":12,"x":0.488,"g1":605,"g2":311,"g3":146,"g4":73,"m1":668,"m2":440,"m3":208,"m4":104},
{"p":12,"x":0.4855,"g1":371,"g2":186,"g3":87,"g4":44,"m1":401,"m2":273,"m3":124,"m4":62},
{"p":12,"x":0.482,"g1":133,"g2":67,"g3":32,"g4":16,"m1":144,"m2":98,"m3":45,"m4":23},
{"p":12,"x":0.475,"g1":33,"g2":14,"g3":4,"g4":1,"m1":41,"m2":28,"m3":13,"m4":7},
{"p":12,"x":0.459,"g1":-8,"g2":-14,"g3":-17,"g4":-19,"m1":13,"m2":9,"m3":5,"m4":3},

{"p":13,"x":0.752,"g1":2,"g2":1,"g3":1,"m1":1,"m2":1,"m3":0},
{"p":13,"x":0.7,"g1":3,"g2":2,"g3":1,"m1":1,"m2":1,"m3":0},
{"p":13,"x":0.64,"g1":8,"g2":6,"g3":4,"m1":1,"m2":1,"m3":1},
{"p":13,"x":0.59,"g1":14,"g2":10,"g3":7,"m1":2,"m2":1,"m3":1},
{"p":13,"x":0.542,"g1":29,"g2":18,"g3":11,"g4":7,"m1":14,"m2":11,"m3":8,"m4":4},
{"p":13,"x":0.53,"g1":57,"g2":31,"g3":16,"g4":9,"m1":40,"m2":32,"m3":23,"m4":12},
{"p":13,"x":0.5235,"g1":148,"g2":77,"g3":36,"g4":18,"m1":120,"m2":98,"m3":74,"m4":37},
{"p":13,"x":0.5205,"g1":278,"g2":140,"g3":64,"g4":32,"m1":233,"m2":192,"m3":148,"m4":74},
{"p":13,"x":0.518,"g1":365,"g2":192,"g3":87,"g4":44,"m1":312,"m2":266,"m3":206,"m4":103},
{"p":13,"x":0.5155,"g1":295,"g2":150,"g3":69,"g4":35,"m1":254,"m2":206,"m3":156,"m4":78},
{"p":13,"x":0.511,"g1":190,"g2":101,"g3":50,"g4":25,"m1":188,"m2":138,"m3":88,"m4":44},
{"p":13,"x":0.5075,"g1":335,"g2":185,"g3":96,"g4":48,"m1":359,"m2":245,"m3":136,"m4":68},
{"p":13,"x":0.505,"g1":490,"g2":289,"g3":151,"g4":76,"m1":525,"m2":350,"m3":203,"m4":102},
{"p":13,"x":0.5025,"g1":323,"g2":179,"g3":94,"g4":47,"m1":352,"m2":237,"m3":126,"m4":63},
{"p":13,"x":0.4995,"g1":162,"g2":88,"g3":45,"g4":23,"m1":175,"m2":118,"m3":63,"m4":32},
{"p":13,"x":0.4965,"g1":129,"g2":68,"g3":35,"g4":18,"m1":138,"m2":94,"m3":48,"m4":24},
{"p":13,"x":0.4925,"g1":220,"g2":112,"g3":58,"g4":29,"m1":238,"m2":161,"m3":77,"m4":39},
{"p":13,"x":0.4905,"g1":380,"g2":192,"g3":98,"g4":49,"m1":411,"m2":279,"m3":129,"m4":65},
{"p":13,"x":0.488,"g1":605,"g2":311,"g3":160,"g4":80,"m1":668,"m2":440,"m3":209,"m4":105},
{"p":13,"x":0.4855,"g1":370,"g2":186,"g3":95,"g4":48,"m1":400,"m2":272,"m3":125,"m4":63},
{"p":13,"x":0.482,"g1":132,"g2":67,"g3":34,"g4":17,"m1":142,"m2":97,"m3":45,"m4":23},
{"p":13,"x":0.475,"g1":33,"g2":14,"g3":5,"g4":1,"m1":40,"m2":28,"m3":14,"m4":7},
{"p":13,"x":0.459,"g1":-8,"g2":-14,"g3":-17,"g4":-19,"m1":13,"m2":9,"m3":5,"m4":3},

{"p":14,"x":0.752,"g1":2,"g2":1,"g3":1,"m1":1,"m2":1,"m3":0},
{"p":14,"x":0.7,"g1":3,"g2":2,"g3":1,"m1":1,"m2":1,"m3":0},
{"p":14,"x":0.64,"g1":8,"g2":6,"g3":4,"m1":1,"m2":1,"m3":1},
{"p":14,"x":0.59,"g1":14,"g2":10,"g3":7,"m1":2,"m2":1,"m3":1},
{"p":14,"x":0.5405,"g1":32,"g2":20,"g3":12,"g4":7,"m1":15,"m2":9,"m3":6,"m4":3},
{"p":14,"x":0.5285,"g1":65,"g2":35,"g3":19,"g4":10,"m1":43,"m2":27,"m3":16,"m4":8},
{"p":14,"x":0.522,"g1":166,"g2":85,"g3":40,"g4":20,"m1":127,"m2":80,"m3":46,"m4":23},
{"p":14,"x":0.519,"g1":316,"g2":157,"g3":72,"g4":36,"m1":248,"m2":156,"m3":89,"m4":45},
{"p":14,"x":0.5165,"g1":415,"g2":216,"g3":99,"g4":50,"m1":335,"m2":210,"m3":123,"m4":62},
{"p":14,"x":0.514,"g1":337,"g2":172,"g3":79,"g4":40,"m1":274,"m2":176,"m3":104,"m4":52},
{"p":14,"x":0.511,"g1":235,"g2":125,"g3":60,"g4":30,"m1":213,"m2":143,"m3":92,"m4":46},
{"p":14,"x":0.5075,"g1":338,"g2":194,"g3":100,"g4":50,"m1":345,"m2":245,"m3":175,"m4":88},
{"p":14,"x":0.505,"g1":495,"g2":295,"g3":153,"g4":77,"m1":525,"m2":345,"m3":260,"m4":130},
{"p":14,"x":0.5025,"g1":314,"g2":182,"g3":95,"g4":48,"m1":330,"m2":236,"m3":169,"m4":85},
{"p":14,"x":0.4995,"g1":161,"g2":90,"g3":45,"g4":23,"m1":167,"m2":117,"m3":79,"m4":40},
{"p":14,"x":0.4965,"g1":131,"g2":69,"g3":34,"g4":17,"m1":138,"m2":93,"m3":55,"m4":28},
{"p":14,"x":0.4925,"g1":227,"g2":113,"g3":52,"g4":26,"m1":238,"m2":160,"m3":79,"m4":40},
{"p":14,"x":0.4905,"g1":395,"g2":192,"g3":88,"g4":44,"m1":412,"m2":278,"m3":131,"m4":66},
{"p":14,"x":0.488,"g1":625,"g2":312,"g3":141,"g4":71,"m1":668,"m2":440,"m3":210,"m4":105},
{"p":14,"x":0.4855,"g1":383,"g2":186,"g3":85,"g4":43,"m1":400,"m2":271,"m3":126,"m4":63},
{"p":14,"x":0.482,"g1":137,"g2":67,"g3":31,"g4":16,"m1":143,"m2":97,"m3":46,"m4":23},
{"p":14,"x":0.475,"g1":35,"g2":14,"g3":4,"g4":1,"m1":40,"m2":27,"m3":14,"m4":7},
{"p":14,"x":0.459,"g1":-7,"g2":-14,"g3":-17,"g4":-19,"m1":13,"m2":8,"m3":5,"m4":3}
]},
"datasets": {
"ann": [
{"p":1,"t":"Ile1384","x":0.7055,"y":232},
{"p":1,"t":"Ile1325","x":0.5525,"y":374},
{"p":1,"t":"Ile1394","x":0.4830,"y":560},
{"p":14,"t":"Ile1325","x":0.548,"y":606},
{"p":14,"t":"Ile1394","x":0.438,"y":622},
{"p":14,"t":"Ile1384","x":0.569,"y":181}
],
"rules": [
{"p":14,"x":0.5433,"y":583,"x2":0.5082,"y2":499},
{"p":14,"x":0.5623,"y":218,"x2":0.5175,"y2":408}
]
},
"columns": 5,
"spacing": {"row": 134, "column": 78},
"bounds": "flush",
"concat": [
{"title": {"text": ["1: P0=51.5, L0=270", "Ile1384 / Ile1394 / Ile1325"]}, "layer": [
 {"transform": [{"filter": "datum.p==1"}, {"fold": ["g1","g2","g3","g4","m1","m2","m3","m4"], "as": ["s","y"]}],
  "mark": {"type": "line", "clip": true, "strokeWidth": 1.6, "interpolate": "monotone"},
  "encoding": {"x": {"field": "x", "type": "quantitative", "scale": {"domain": [0.458, 0.7525], "reverse": true, "nice": false, "zero": false}, "axis": {"values": [0.5, 0.6, 0.7], "format": ".1f", "title": null}},
   "y": {"field": "y", "type": "quantitative", "scale": {"domain": [-36, 670], "nice": false, "zero": false}, "axis": {"values": [0, 200, 400, 600], "title": null}},
   "color": {"field": "s", "type": "nominal", "scale": {"domain": ["g1","g2","g3","g4","m1","m2","m3","m4"], "range": ["#b5b5b5","#b5b5b5","#b5b5b5","#b5b5b5","#e6197a","#e6197a","#e6197a","#e6197a"]}, "legend": null}}},
 {"data": {"name": "ann"}, "transform": [{"filter": "datum.p==1"}],
  "mark": {"type": "text", "font": "Liberation Sans", "fontSize": 20, "color": "#111111"},
  "encoding": {"x": {"field": "x", "type": "quantitative"}, "y": {"field": "y", "type": "quantitative"}, "text": {"field": "t"}}}
]},
{"title": {"text": ["2: P0=51.5, L0=120", "Ile1384 / Ile1394 / Ile1325"]},
  "transform": [{"filter": "datum.p==2"}, {"fold": ["g1","g2","g3","g4","m1","m2","m3","m4"], "as": ["s","y"]}],
  "mark": {"type": "line", "clip": true, "strokeWidth": 1.6, "interpolate": "monotone"},
  "encoding": {"x": {"field": "x", "type": "quantitative", "scale": {"domain": [0.458, 0.7525], "reverse": true, "nice": false, "zero": false}, "axis": {"values": [0.5, 0.6, 0.7], "format": ".1f", "title": null}},
   "y": {"field": "y", "type": "quantitative", "scale": {"domain": [-36, 670], "nice": false, "zero": false}, "axis": {"values": [0, 200, 400, 600], "title": null}},
   "color": {"field": "s", "type": "nominal", "scale": {"domain": ["g1","g2","g3","g4","m1","m2","m3","m4"], "range": ["#b5b5b5","#b5b5b5","#b5b5b5","#b5b5b5","#e6197a","#e6197a","#e6197a","#e6197a"]}, "legend": null}}},
{"title": {"text": ["3: P0=51.5, L0=100", "Ile1384 / Ile1394 / Ile1325"]},
  "transform": [{"filter": "datum.p==3"}, {"fold": ["g1","g2","g3","g4","m1","m2","m3","m4"], "as": ["s","y"]}],
  "mark": {"type": "line", "clip": true, "strokeWidth": 1.6, "interpolate": "monotone"},
  "encoding": {"x": {"field": "x", "type": "quantitative", "scale": {"domain": [0.458, 0.7525], "reverse": true, "nice": false, "zero": false}, "axis": {"values": [0.5, 0.6, 0.7], "format": ".1f", "title": null}},
   "y": {"field": "y", "type": "quantitative", "scale": {"domain": [-36, 670], "nice": false, "zero": false}, "axis": {"values": [0, 200, 400, 600], "title": null}},
   "color": {"field": "s", "type": "nominal", "scale": {"domain": ["g1","g2","g3","g4","m1","m2","m3","m4"], "range": ["#b5b5b5","#b5b5b5","#b5b5b5","#b5b5b5","#e6197a","#e6197a","#e6197a","#e6197a"]}, "legend": null}}},
{"title": {"text": ["4: P0=51.5, L0=75", "Ile1384 / Ile1394 / Ile1325"]},
  "transform": [{"filter": "datum.p==4"}, {"fold": ["g1","g2","g3","g4","m1","m2","m3","m4"], "as": ["s","y"]}],
  "mark": {"type": "line", "clip": true, "strokeWidth": 1.6, "interpolate": "monotone"},
  "encoding": {"x": {"field": "x", "type": "quantitative", "scale": {"domain": [0.458, 0.7525], "reverse": true, "nice": false, "zero": false}, "axis": {"values": [0.5, 0.6, 0.7], "format": ".1f", "title": null}},
   "y": {"field": "y", "type": "quantitative", "scale": {"domain": [-36, 670], "nice": false, "zero": false}, "axis": {"values": [0, 200, 400, 600], "title": null}},
   "color": {"field": "s", "type": "nominal", "scale": {"domain": ["g1","g2","g3","g4","m1","m2","m3","m4"], "range": ["#b5b5b5","#b5b5b5","#b5b5b5","#b5b5b5","#e6197a","#e6197a","#e6197a","#e6197a"]}, "legend": null}}},
{"title": {"text": ["5: P0=51.5, L0=50", "Ile1384 / Ile1394 / Ile1325"]},
  "transform": [{"filter": "datum.p==5"}, {"fold": ["g1","g2","g3","g4","m1","m2","m3","m4"], "as": ["s","y"]}],
  "mark": {"type": "line", "clip": true, "strokeWidth": 1.6, "interpolate": "monotone"},
  "encoding": {"x": {"field": "x", "type": "quantitative", "scale": {"domain": [0.458, 0.7525], "reverse": true, "nice": false, "zero": false}, "axis": {"values": [0.5, 0.6, 0.7], "format": ".1f", "title": null}},
   "y": {"field": "y", "type": "quantitative", "scale": {"domain": [-36, 670], "nice": false, "zero": false}, "axis": {"values": [0, 200, 400, 600], "title": null}},
   "color": {"field": "s", "type": "nominal", "scale": {"domain": ["g1","g2","g3","g4","m1","m2","m3","m4"], "range": ["#b5b5b5","#b5b5b5","#b5b5b5","#b5b5b5","#e6197a","#e6197a","#e6197a","#e6197a"]}, "legend": null}}},
{"title": {"text": ["6: P0=51.5, L0=37.5", "Ile1384 / Ile1394 / Ile1325"]},
  "transform": [{"filter": "datum.p==6"}, {"fold": ["g1","g2","g3","g4","m1","m2","m3","m4"], "as": ["s","y"]}],
  "mark": {"type": "line", "clip": true, "strokeWidth": 1.6, "interpolate": "monotone"},
  "encoding": {"x": {"field": "x", "type": "quantitative", "scale": {"domain": [0.458, 0.7525], "reverse": true, "nice": false, "zero": false}, "axis": {"values": [0.5, 0.6, 0.7], "format": ".1f", "title": null}},
   "y": {"field": "y", "type": "quantitative", "scale": {"domain": [-36, 670], "nice": false, "zero": false}, "axis": {"values": [0, 200, 400, 600], "title": null}},
   "color": {"field": "s", "type": "nominal", "scale": {"domain": ["g1","g2","g3","g4","m1","m2","m3","m4"], "range": ["#b5b5b5","#b5b5b5","#b5b5b5","#b5b5b5","#e6197a","#e6197a","#e6197a","#e6197a"]}, "legend": null}}},
{"title": {"text": ["7: P0=51.5, L0=25", "Ile1384 / Ile1394 / Ile1325"]},
  "transform": [{"filter": "datum.p==7"}, {"fold": ["g1","g2","g3","g4","m1","m2","m3","m4"], "as": ["s","y"]}],
  "mark": {"type": "line", "clip": true, "strokeWidth": 1.6, "interpolate": "monotone"},
  "encoding": {"x": {"field": "x", "type": "quantitative", "scale": {"domain": [0.458, 0.7525], "reverse": true, "nice": false, "zero": false}, "axis": {"values": [0.5, 0.6, 0.7], "format": ".1f", "title": null}},
   "y": {"field": "y", "type": "quantitative", "scale": {"domain": [-36, 670], "nice": false, "zero": false}, "axis": {"values": [0, 200, 400, 600], "title": null}},
   "color": {"field": "s", "type": "nominal", "scale": {"domain": ["g1","g2","g3","g4","m1","m2","m3","m4"], "range": ["#b5b5b5","#b5b5b5","#b5b5b5","#b5b5b5","#e6197a","#e6197a","#e6197a","#e6197a"]}, "legend": null}}},
{"title": {"text": ["8: P0=51.5, L0=12.5", "Ile1384 / Ile1394 / Ile1325"]},
  "transform": [{"filter": "datum.p==8"}, {"fold": ["g1","g2","g3","g4","m1","m2","m3","m4"], "as": ["s","y"]}],
  "mark": {"type": "line", "clip": true, "strokeWidth": 1.6, "interpolate": "monotone"},
  "encoding": {"x": {"field": "x", "type": "quantitative", "scale": {"domain": [0.458, 0.7525], "reverse": true, "nice": false, "zero": false}, "axis": {"values": [0.5, 0.6, 0.7], "format": ".1f", "title": null}},
   "y": {"field": "y", "type": "quantitative", "scale": {"domain": [-36, 670], "nice": false, "zero": false}, "axis": {"values": [0, 200, 400, 600], "title": null}},
   "color": {"field": "s", "type": "nominal", "scale": {"domain": ["g1","g2","g3","g4","m1","m2","m3","m4"], "range": ["#b5b5b5","#b5b5b5","#b5b5b5","#b5b5b5","#e6197a","#e6197a","#e6197a","#e6197a"]}, "legend": null}}},
{"title": {"text": ["9: P0=51.5, L0=6.25", "Ile1384 / Ile1394 / Ile1325"]},
  "transform": [{"filter": "datum.p==9"}, {"fold": ["g1","g2","g3","g4","m1","m2","m3","m4"], "as": ["s","y"]}],
  "mark": {"type": "line", "clip": true, "strokeWidth": 1.6, "interpolate": "monotone"},
  "encoding": {"x": {"field": "x", "type": "quantitative", "scale": {"domain": [0.458, 0.7525], "reverse": true, "nice": false, "zero": false}, "axis": {"values": [0.5, 0.6, 0.7], "format": ".1f", "title": null}},
   "y": {"field": "y", "type": "quantitative", "scale": {"domain": [-36, 670], "nice": false, "zero": false}, "axis": {"values": [0, 200, 400, 600], "title": null}},
   "color": {"field": "s", "type": "nominal", "scale": {"domain": ["g1","g2","g3","g4","m1","m2","m3","m4"], "range": ["#b5b5b5","#b5b5b5","#b5b5b5","#b5b5b5","#e6197a","#e6197a","#e6197a","#e6197a"]}, "legend": null}}},
{"title": {"text": ["10: P0=51.5, L0=3.13", "Ile1384 / Ile1394 / Ile1325"]},
  "transform": [{"filter": "datum.p==10"}, {"fold": ["g1","g2","g3","g4","m1","m2","m3","m4"], "as": ["s","y"]}],
  "mark": {"type": "line", "clip": true, "strokeWidth": 1.6, "interpolate": "monotone"},
  "encoding": {"x": {"field": "x", "type": "quantitative", "scale": {"domain": [0.458, 0.7525], "reverse": true, "nice": false, "zero": false}, "axis": {"values": [0.5, 0.6, 0.7], "format": ".1f", "title": null}},
   "y": {"field": "y", "type": "quantitative", "scale": {"domain": [-36, 670], "nice": false, "zero": false}, "axis": {"values": [0, 200, 400, 600], "title": null}},
   "color": {"field": "s", "type": "nominal", "scale": {"domain": ["g1","g2","g3","g4","m1","m2","m3","m4"], "range": ["#b5b5b5","#b5b5b5","#b5b5b5","#b5b5b5","#e6197a","#e6197a","#e6197a","#e6197a"]}, "legend": null}}},
{"title": {"text": ["11: P0=51.5, L0=1.56", "Ile1384 / Ile1394 / Ile1325"]},
  "transform": [{"filter": "datum.p==11"}, {"fold": ["g1","g2","g3","g4","m1","m2","m3","m4"], "as": ["s","y"]}],
  "mark": {"type": "line", "clip": true, "strokeWidth": 1.6, "interpolate": "monotone"},
  "encoding": {"x": {"field": "x", "type": "quantitative", "scale": {"domain": [0.458, 0.7525], "reverse": true, "nice": false, "zero": false}, "axis": {"values": [0.5, 0.6, 0.7], "format": ".1f", "title": null}},
   "y": {"field": "y", "type": "quantitative", "scale": {"domain": [-36, 670], "nice": false, "zero": false}, "axis": {"values": [0, 200, 400, 600], "title": null}},
   "color": {"field": "s", "type": "nominal", "scale": {"domain": ["g1","g2","g3","g4","m1","m2","m3","m4"], "range": ["#b5b5b5","#b5b5b5","#b5b5b5","#b5b5b5","#e6197a","#e6197a","#e6197a","#e6197a"]}, "legend": null}}},
{"title": {"text": ["12: P0=51.5, L0=0.781", "Ile1384 / Ile1394 / Ile1325"]},
  "transform": [{"filter": "datum.p==12"}, {"fold": ["g1","g2","g3","g4","m1","m2","m3","m4"], "as": ["s","y"]}],
  "mark": {"type": "line", "clip": true, "strokeWidth": 1.6, "interpolate": "monotone"},
  "encoding": {"x": {"field": "x", "type": "quantitative", "scale": {"domain": [0.458, 0.7525], "reverse": true, "nice": false, "zero": false}, "axis": {"values": [0.5, 0.6, 0.7], "format": ".1f", "title": null}},
   "y": {"field": "y", "type": "quantitative", "scale": {"domain": [-36, 670], "nice": false, "zero": false}, "axis": {"values": [0, 200, 400, 600], "title": null}},
   "color": {"field": "s", "type": "nominal", "scale": {"domain": ["g1","g2","g3","g4","m1","m2","m3","m4"], "range": ["#b5b5b5","#b5b5b5","#b5b5b5","#b5b5b5","#e6197a","#e6197a","#e6197a","#e6197a"]}, "legend": null}}},
{"title": {"text": ["13: P0=51.5, L0=0.391", "Ile1384 / Ile1394 / Ile1325"]},
  "transform": [{"filter": "datum.p==13"}, {"fold": ["g1","g2","g3","g4","m1","m2","m3","m4"], "as": ["s","y"]}],
  "mark": {"type": "line", "clip": true, "strokeWidth": 1.6, "interpolate": "monotone"},
  "encoding": {"x": {"field": "x", "type": "quantitative", "scale": {"domain": [0.458, 0.7525], "reverse": true, "nice": false, "zero": false}, "axis": {"values": [0.5, 0.6, 0.7], "format": ".1f", "title": null}},
   "y": {"field": "y", "type": "quantitative", "scale": {"domain": [-36, 670], "nice": false, "zero": false}, "axis": {"values": [0, 200, 400, 600], "title": null}},
   "color": {"field": "s", "type": "nominal", "scale": {"domain": ["g1","g2","g3","g4","m1","m2","m3","m4"], "range": ["#b5b5b5","#b5b5b5","#b5b5b5","#b5b5b5","#e6197a","#e6197a","#e6197a","#e6197a"]}, "legend": null}}},
{"title": {"text": ["14: P0=51.5, L0=0", "Ile1384 / Ile1394 / Ile1325"]}, "layer": [
 {"transform": [{"filter": "datum.p==14"}, {"fold": ["g1","g2","g3","g4","m1","m2","m3","m4"], "as": ["s","y"]}],
  "mark": {"type": "line", "clip": true, "strokeWidth": 1.6, "interpolate": "monotone"},
  "encoding": {"x": {"field": "x", "type": "quantitative", "scale": {"domain": [0.458, 0.7525], "reverse": true, "nice": false, "zero": false}, "axis": {"values": [0.5, 0.6, 0.7], "format": ".1f", "title": null}},
   "y": {"field": "y", "type": "quantitative", "scale": {"domain": [-36, 670], "nice": false, "zero": false}, "axis": {"values": [0, 200, 400, 600], "title": null}},
   "color": {"field": "s", "type": "nominal", "scale": {"domain": ["g1","g2","g3","g4","m1","m2","m3","m4"], "range": ["#b5b5b5","#b5b5b5","#b5b5b5","#b5b5b5","#e6197a","#e6197a","#e6197a","#e6197a"]}, "legend": null}}},
 {"data": {"name": "rules"},
  "mark": {"type": "rule", "color": "#222222", "strokeWidth": 1.3},
  "encoding": {"x": {"field": "x", "type": "quantitative"}, "y": {"field": "y", "type": "quantitative"}, "x2": {"field": "x2"}, "y2": {"field": "y2"}}},
 {"data": {"name": "ann"}, "transform": [{"filter": "datum.p==14"}],
  "mark": {"type": "text", "font": "Liberation Sans", "fontSize": 20, "color": "#111111"},
  "encoding": {"x": {"field": "x", "type": "quantitative"}, "y": {"field": "y", "type": "quantitative"}, "text": {"field": "t"}}}
]}
],
"config": {
 "view": {"continuousWidth": 250, "continuousHeight": 250, "stroke": null},
 "title": {"font": "Liberation Sans", "fontSize": 24.8, "fontWeight": "bold", "color": "#111111", "lineHeight": 30, "anchor": "middle", "frame": "group", "dx": -24, "offset": 9},
 "axis": {"domainColor": "#333333", "domainWidth": 1.5, "tickColor": "#333333", "tickSize": -4, "tickWidth": 1.2, "labelFont": "Liberation Sans", "labelFontSize": 22, "labelColor": "#222222", "grid": false, "labelFlush": false},
 "axisX": {"labelPadding": 10},
 "axisY": {"labelPadding": 15}
}
}
